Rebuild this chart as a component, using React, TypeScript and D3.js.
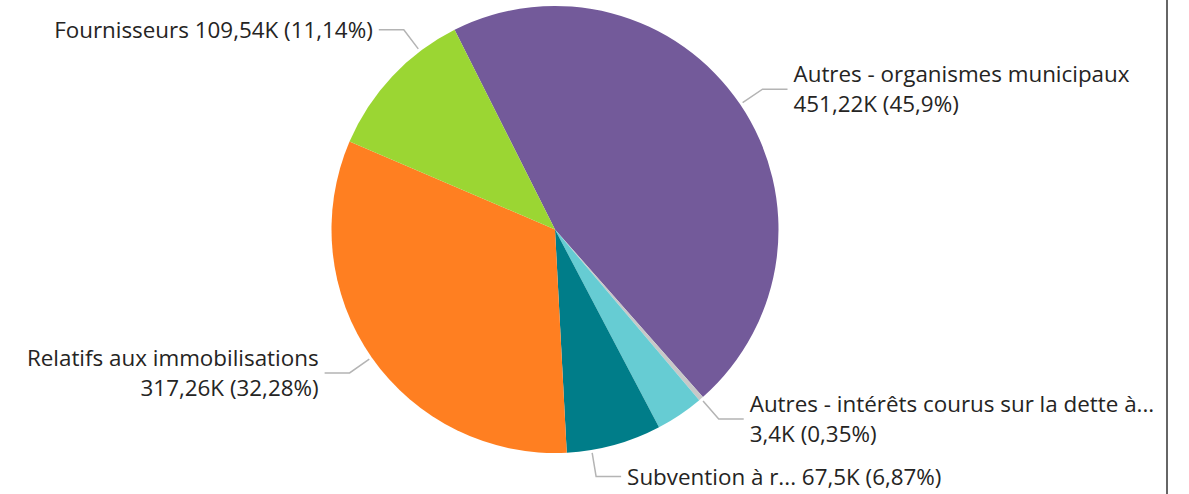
import * as d3 from "d3";

const categories = [
  "Autres - organismes municipaux",
  "Autres - intérêts courus sur la dette à...",
  "Autres - frais de financement",
  "Subvention à r...",
  "Relatifs aux immobilisations",
  "Fournisseurs",
];
const values = [451.22, 3.4, 34.0, 67.5, 317.26, 109.54];
const valueLabels = ["451,22K", "3,4K", "34K", "67,5K", "317,26K", "109,54K"];
const percentLabels = ["45,9%", "0,35%", "3,46%", "6,87%", "32,28%", "11,14%"];
const colors = ["#735A9A", "#C8C8C8", "#66CCD3", "#007D89", "#FF7F21", "#9BD633"];
// label layout: where on the slice the leader starts (0..1), label side, lines
const labelShown = [true, true, false, true, true, true];
const labelFraction = [0.5, 0.5, 0.5, 0.74, 0.5, 0.74];
const labelTwoLines = [true, true, false, false, true, false];

const WIDTH = 1189;
const HEIGHT = 494;
const CX = 555;
const CY = 229.5;
const RADIUS = 223.5;
const START = (-26.7 * Math.PI) / 180;
const FONT = "'Segoe UI', 'Open Sans', 'Noto Sans', sans-serif";
const FONT_SIZE = 22.4;
const LINE_GAP = 30;

const App = () => {
  const pie = d3
    .pie<number>()
    .sort(null)
    .startAngle(START)
    .endAngle(START + 2 * Math.PI);
  const arcs = pie(values);
  const arc = d3.arc<d3.PieArcDatum<number>>().innerRadius(0).outerRadius(RADIUS);

  return (
    <svg
      width={WIDTH}
      height={HEIGHT}
      style={{ position: "fixed", left: 0, top: 0, background: "#fff" }}
    >
      <g transform={`translate(${CX},${CY})`}>
        {arcs.map((a, i) => (
          <path key={categories[i]} d={arc(a) ?? ""} fill={colors[i]} />
        ))}
        {arcs.map((a, i) => {
          if (!labelShown[i]) return null;
          const ang = a.startAngle + (a.endAngle - a.startAngle) * labelFraction[i];
          const sx = Math.sin(ang);
          const sy = -Math.cos(ang);
          const p0 = [sx * (RADIUS + 3), sy * (RADIUS + 3)];
          const p1 = [sx * (RADIUS + 27), sy * (RADIUS + 27)];
          const right = sx >= 0;
          const p2 = [p1[0] + (right ? 25 : -25), p1[1]];
          const tx = p2[0] + (right ? 6 : -6);
          const anchor = right ? "start" : "end";
          const lineA = labelTwoLines[i]
            ? categories[i]
            : `${categories[i]} ${valueLabels[i]} (${percentLabels[i]})`;
          const lineB = `${valueLabels[i]} (${percentLabels[i]})`;
          return (
            <g key={`lbl-${i}`}>
              <polyline
                points={[p0, p1, p2].map((p) => p.join(",")).join(" ")}
                fill="none"
                stroke="#B4B4B4"
                strokeWidth={1.5}
              />
              {labelTwoLines[i] ? (
                <text
                  x={tx}
                  y={p1[1]}
                  textAnchor={anchor}
                  fontFamily={FONT}
                  fontSize={FONT_SIZE}
                  fill="#252423"
                >
                  <tspan x={tx} dy={-LINE_GAP / 2 + 8}>
                    {lineA}
                  </tspan>
                  <tspan x={tx} dy={LINE_GAP}>
                    {lineB}
                  </tspan>
                </text>
              ) : (
                <text
                  x={tx}
                  y={p1[1]}
                  dy={8}
                  textAnchor={anchor}
                  fontFamily={FONT}
                  fontSize={FONT_SIZE}
                  fill="#252423"
                >
                  {lineA}
                </text>
              )}
            </g>
          );
        })}
      </g>
      <line x1={1167} x2={1167} y1={0} y2={HEIGHT} stroke="#666" strokeWidth={2} />
    </svg>
  );
};

export default App;
